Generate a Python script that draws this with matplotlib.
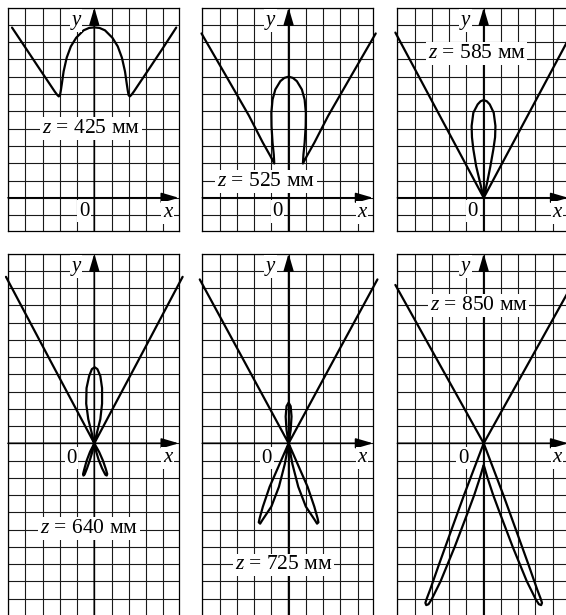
import matplotlib
matplotlib.use('Agg')
import matplotlib.pyplot as plt

plt.rcParams['font.family'] = ['Liberation Serif', 'DejaVu Serif']
plt.rcParams['mathtext.fontset'] = 'custom'
plt.rcParams['mathtext.rm'] = 'Liberation Serif'
plt.rcParams['mathtext.it'] = 'Liberation Serif:italic'

# подписи панелей
z_labels = ['425', '525', '585', '640', '725', '850']

# кривые (клетки сетки)
c1_x = [-4.77, -4.0, -3.2, -2.6, -2.3, -2.15, -2.06, -1.99, -1.94, -1.88, -1.78, -1.6, -1.36, -1.05, -0.62, -0.3, 0.0,
        0.3, 0.62, 1.05, 1.36, 1.6, 1.78, 1.88, 1.94, 1.99, 2.06, 2.15, 2.3, 2.6, 3.2, 4.0, 4.75]
c1_y = [9.84, 8.69, 7.49, 6.6, 6.15, 5.95, 5.86, 5.93, 6.2, 6.6, 7.3, 8.1, 8.75, 9.25, 9.68, 9.82, 9.85,
        9.82, 9.68, 9.25, 8.75, 8.1, 7.3, 6.6, 6.2, 5.93, 5.86, 5.95, 6.15, 6.6, 7.49, 8.69, 9.84]

c2_x = [-5.05, -3.6, -2.3, -1.5, -1.05, -0.83, -0.86, -0.93, -0.99, -1.0, -0.93, -0.77, -0.48, -0.25, 0.0,
        0.25, 0.48, 0.77, 0.93, 1.0, 0.99, 0.93, 0.86, 0.83, 1.05, 1.5, 2.3, 3.6, 5.05]
c2_y = [9.5, 7.0, 4.75, 3.2, 2.4, 1.98, 2.5, 3.18, 4.14, 4.91, 5.68, 6.26, 6.74, 6.93, 7.0,
        6.93, 6.74, 6.26, 5.68, 4.91, 4.14, 3.18, 2.5, 1.98, 2.4, 3.2, 4.75, 7.0, 9.5]

c3_x = [-5.12, -2.5, 0.0, -0.21, -0.44, -0.6, -0.68, -0.7, -0.6, -0.35, -0.18, 0.0,
        0.18, 0.35, 0.58, 0.68, 0.66, 0.56, 0.39, 0.2, 0.0, 2.5, 5.12]
c3_y = [9.55, 4.66, 0.0, 0.88, 1.84, 2.8, 3.5, 4.15, 4.92, 5.4, 5.58, 5.65,
        5.58, 5.4, 4.92, 4.15, 3.5, 2.8, 1.84, 0.88, 0.0, 4.66, 9.55]

c4_x = [-5.12, -2.5, 0.0,
        0.28, 0.5, 0.67, 0.75, 0.72, 0.64, 0.45, 0.25, 0.1, 0.0,
        -0.15, -0.35, -0.47, -0.45, -0.3, -0.14, 0.02, 0.18, 0.35, 0.45, 0.45, 0.35, 0.15, 0.0,
        -0.1, -0.25, -0.42, -0.56, -0.63, -0.65, -0.58, -0.44, -0.25, 0.0,
        2.5, 5.12]
c4_y = [9.65, 4.7, 0.0,
        -0.5, -1.0, -1.5, -1.78, -1.87, -1.82, -1.45, -0.95, -0.45, 0.0,
        0.6, 1.4, 2.3, 3.2, 3.9, 4.3, 4.41, 4.3, 3.9, 3.2, 2.3, 1.4, 0.6, 0.0,
        -0.45, -0.95, -1.45, -1.8, -1.87, -1.78, -1.5, -1.0, -0.5, 0.0,
        4.7, 9.65]

c5_x = [-5.15, -2.5, 0.0,
        0.5, 1.1, 1.49, 1.68, 1.73, 1.65, 1.52, 1.0, 0.56, 0.22, 0.0,
        -0.12, -0.17, -0.12, 0.0, 0.12, 0.17, 0.12, 0.0,
        -0.22, -0.56, -1.0, -1.52, -1.65, -1.73, -1.68, -1.49, -1.1, -0.5, 0.0,
        2.5, 5.15]
c5_y = [9.5, 4.62, 0.0,
        -1.15, -2.52, -3.67, -4.35, -4.58, -4.66, -4.45, -3.67, -2.52, -1.2, 0.0,
        0.77, 1.55, 2.15, 2.36, 2.15, 1.55, 0.77, 0.0,
        -1.2, -2.52, -3.67, -4.45, -4.66, -4.58, -4.35, -3.67, -2.52, -1.15, 0.0,
        4.62, 9.5]

c6_x = [-5.12, -2.5, 0.0, 1.14, 1.86, 2.57, 3.11, 3.3, 3.38, 3.33, 3.2, 3.02, 2.5, 1.68, 0.92, 0.55, 0.22, 0.06, 0.0,
        -0.06, -0.22, -0.55, -0.92, -1.68, -2.5, -3.02, -3.2, -3.33, -3.38, -3.3, -3.11, -2.57, -1.86, -1.14, 0.0,
        2.5, 5.12]
c6_y = [9.18, 4.48, 0.0, -3.0, -4.99, -6.96, -8.5, -9.0, -9.25, -9.38, -9.33, -9.05, -8.0, -6.0, -4.0, -3.0, -2.0, -1.45, -1.26,
        -1.45, -2.0, -3.0, -4.0, -6.0, -8.0, -9.05, -9.33, -9.38, -9.25, -9.0, -8.5, -6.96, -4.99, -3.0, 0.0,
        4.48, 9.18]

curves_x = [c1_x, c2_x, c3_x, c4_x, c5_x, c6_x]
curves_y = [c1_y, c2_y, c3_y, c4_y, c5_y, c6_y]

# где стоят надписи
z_pos = [(-0.2, 4.0), (-1.3, 0.95), (-0.4, 8.35), (-0.3, -4.95), (-0.3, -7.05), (-0.3, 8.0)]
zero_pos = [(-0.6, -0.78), (-0.64, -0.8), (-0.64, -0.78), (-1.32, -0.87), (-1.26, -0.87), (-1.18, -0.87)]

W, H = 566, 615
fig = plt.figure(figsize=(W / 100, H / 100), dpi=100)

origins = [(94.3, 197.8), (288.6, 197.8), (483.7, 197.8),
           (94.3, 443.3), (288.6, 443.3), (483.7, 443.3)]
sx = 17.25
xlim = (-5, 4.9)

for i in range(6):
    ox, oy = origins[i]
    if i < 3:
        ylim = (-1.9, 11)
        sy = 17.3
    else:
        ylim = (-10, 11)
        sy = 17.25
    l = ox + xlim[0] * sx
    r = ox + xlim[1] * sx
    t = oy - ylim[1] * sy
    b = oy - ylim[0] * sy
    ax = fig.add_axes([l / W, 1 - b / H, (r - l) / W, (b - t) / H])
    ax.set_xlim(xlim)
    ax.set_ylim(ylim)
    ax.set_xticks(range(-5, 5))
    ax.set_yticks(range(int(ylim[0]), 12))
    ax.tick_params(length=0, labelbottom=False, labelleft=False)
    ax.grid(True, color='#1a1a1a', lw=0.8)
    ax.set_axisbelow(True)
    for sp in ax.spines.values():
        sp.set_linewidth(0.9)

    # оси со стрелками
    arr = dict(arrowstyle='-|>,head_length=0.75,head_width=0.22', lw=1.2, color='k',
               shrinkA=0, shrinkB=0, mutation_scale=14)
    ax.annotate('', xy=(xlim[1], 0), xytext=(xlim[0], 0), arrowprops=arr, annotation_clip=False)
    ax.annotate('', xy=(0, ylim[1]), xytext=(0, ylim[0]), arrowprops=arr, annotation_clip=False)

    ax.plot(curves_x[i], curves_y[i], color='k', lw=1.6, clip_on=False,
            solid_joinstyle='round', solid_capstyle='round', zorder=3)

    box = dict(facecolor='white', edgecolor='none', pad=1.2)
    ax.text(z_pos[i][0], z_pos[i][1], '$z$ = ' + z_labels[i] + ' мм', fontsize=15.5,
            ha='center', va='center', bbox=box, zorder=5)
    ax.text(-1.05, 10.25, 'y', fontsize=15, style='italic', ha='center', va='center', bbox=box, zorder=5)
    ax.text(4.25, -0.85, 'x', fontsize=15, style='italic', ha='center', va='center', bbox=box, zorder=5)
    ax.text(zero_pos[i][0], zero_pos[i][1], '0', fontsize=15, ha='center', va='center', bbox=box, zorder=5)

fig.savefig('out.png', dpi=100)
